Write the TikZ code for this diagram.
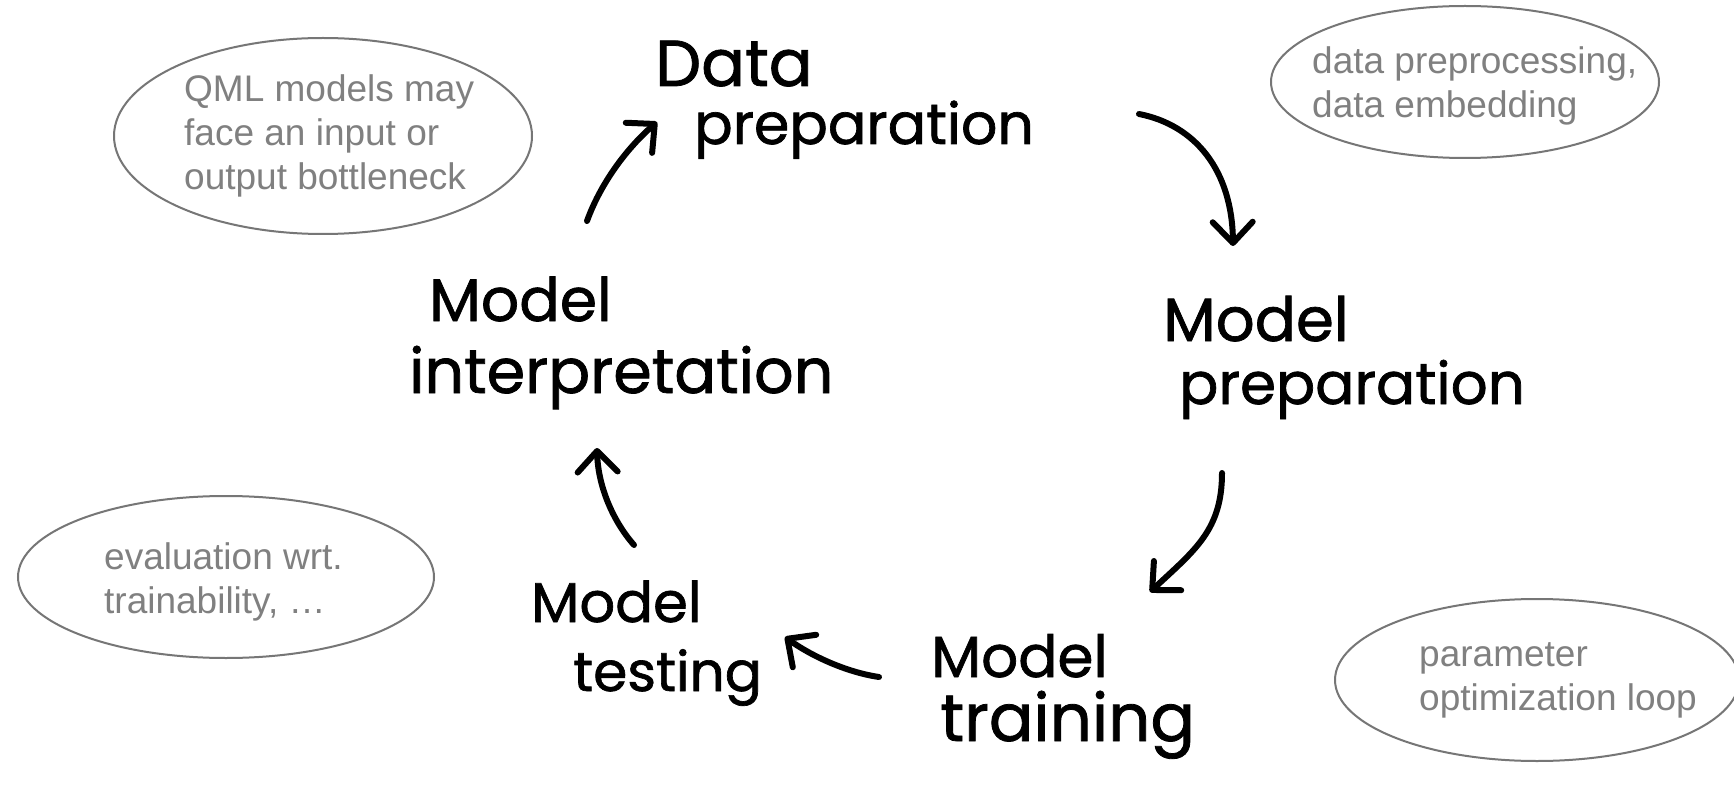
\documentclass[tikz,border=0pt]{standalone}
\usepackage{fontspec}
\setmainfont{Liberation Sans}
\newfontfamily\handfont{Poppins}[FakeBold=1.2]
\usetikzlibrary{arrows.meta,shapes.geometric}

\definecolor{notegray}{RGB}{128,128,128}
\definecolor{rimgray}{RGB}{118,118,118}

\begin{document}
\begin{tikzpicture}[x=1pt,y=-1pt,
  bubble/.style={draw=rimgray, line width=2pt, ellipse, inner sep=0pt},
  note/.style={text=notegray, align=left, inner sep=0pt, anchor=west,
    font=\fontsize{37}{44}\selectfont},
  hand/.style={inner sep=0pt, anchor=base west,
    font=\handfont\fontsize{#1}{#1}\selectfont},
  hand/.default=60,
  flow/.style={line width=6pt, line cap=round, line join=round,
    -{Straight Barb[length=21pt,width=40pt,round]}}]

\path[use as bounding box, fill=white] (0,0) rectangle (1734,786);

% side notes in grey ellipses
\node[bubble, minimum width=418pt, minimum height=196pt] (eA) at (323,136) {};
\node[note] (tA) at (184,136) {QML models may\\face an input or\\output bottleneck};

\node[bubble, minimum width=388pt, minimum height=152pt] (eB) at (1465,82) {};
\node[note] (tB) at (1312,86) {data preprocessing,\\data embedding};

\node[bubble, minimum width=416pt, minimum height=162pt] (eC) at (226,577) {};
\node[note] (tC) at (104,582) {evaluation wrt.\\trainability, \dots};

\node[bubble, minimum width=404pt, minimum height=162pt] (eD) at (1537,680) {};
\node[note] (tD) at (1419,680) {parameter\\optimization loop};

% stages of the cycle
\node[hand=65] (dp1) at (655,86) {Data};
\node[hand=57] (dp2) at (694,144) {preparation};

\node[hand=61] (mp1) at (1163,341) {Model};
\node[hand=58] (mp2) at (1179,404) {preparation};

\node[hand=58] (mtr1) at (931,677) {Model};
\node[hand=66] (mtr2) at (940,741) {training};

\node[hand=56] (mte1) at (531,622) {Model};
\node[hand=55] (mte2) at (573,691) {testing};

\node[hand=60] (mi1) at (429,321) {Model};
\node[hand=62] (mi2) at (409,393) {interpretation};

% arrow ends
\coordinate (a1s) at (587,221);  \coordinate (a1e) at (657,122);
\coordinate (a2s) at (1139,114); \coordinate (a2e) at (1233,246);
\coordinate (a3s) at (1222,473); \coordinate (a3e) at (1150,592);
\coordinate (a4s) at (879,677);  \coordinate (a4e) at (785,637);
\coordinate (a5s) at (634,545);  \coordinate (a5e) at (597,448);

\draw[flow] (a1s) .. controls (600,185) and (625,150) .. (a1e);
\draw[flow] (a2s) .. controls (1195,125) and (1232,170) .. (a2e);
\draw[flow] (a3s) .. controls (1222,530) and (1195,550) .. (a3e);
\draw[flow] (a4s) .. controls (845,672) and (810,655) .. (a4e);
\draw[flow] (a5s) .. controls (612,520) and (598,485) .. (a5e);

\end{tikzpicture}
\end{document}
